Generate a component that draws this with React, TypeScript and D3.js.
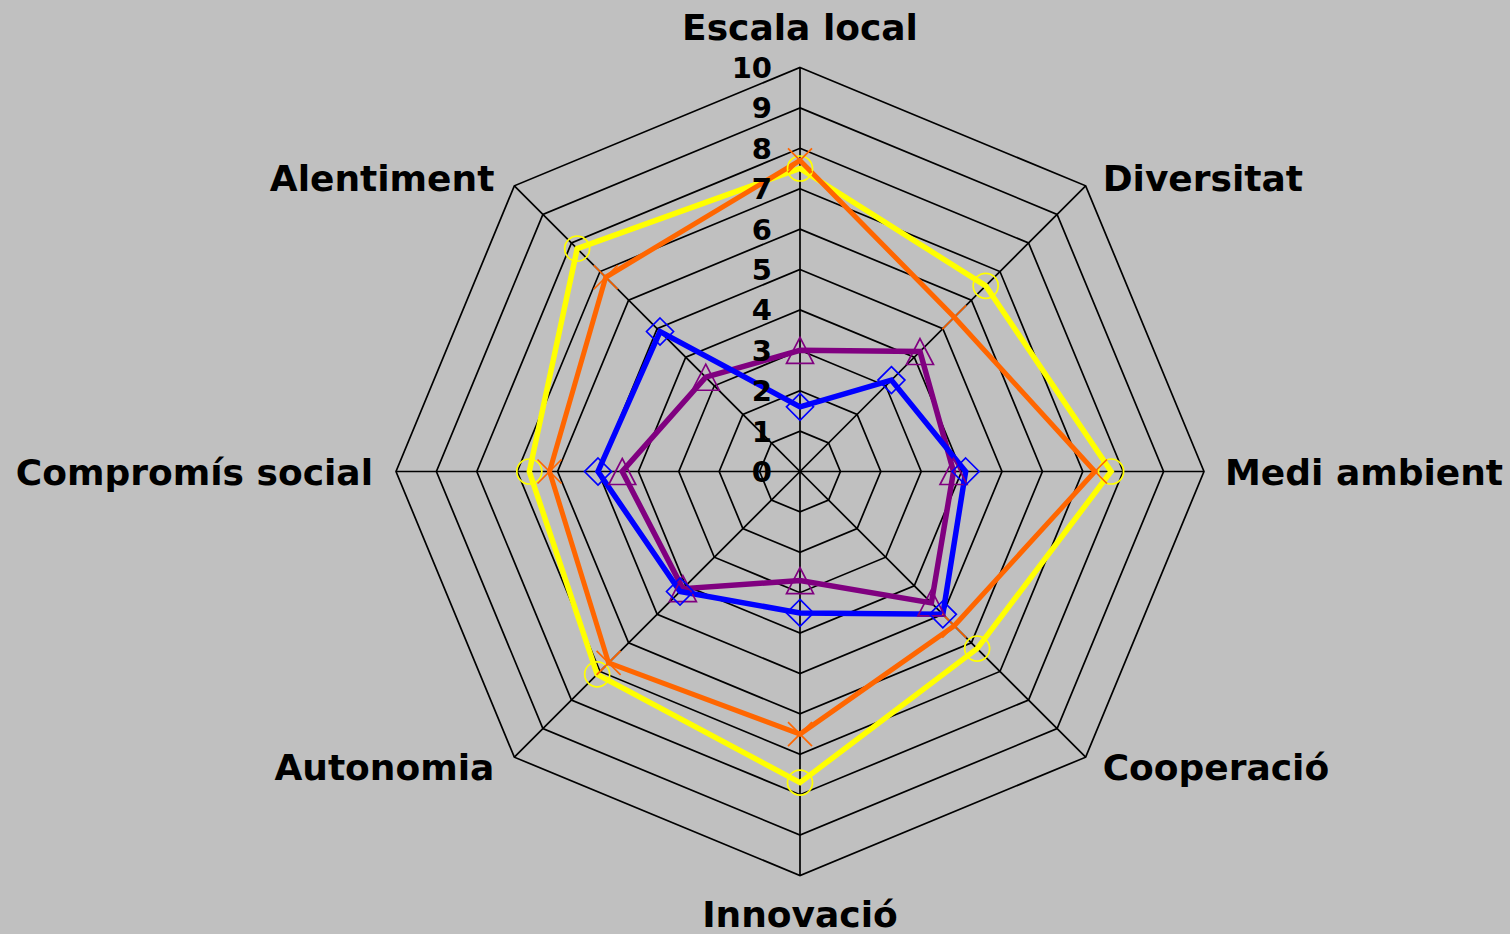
import * as d3 from 'd3';

const axes = [
  'Escala local',
  'Diversitat',
  'Medi ambient',
  'Cooperació',
  'Innovació',
  'Autonomia',
  'Compromís social',
  'Alentiment',
];

const ticks = [0, 1, 2, 3, 4, 5, 6, 7, 8, 9, 10];

// values per axis, in the order of `axes`
const yellowValues = [7.5, 6.5, 7.7, 6.2, 7.7, 7.1, 6.7, 7.8];
const orangeValues = [7.7, 5.4, 7.3, 5.4, 6.5, 6.7, 6.2, 6.8];
const purpleValues = [3.0, 4.2, 3.8, 4.6, 2.7, 4.1, 4.4, 3.3];
const blueValues = [1.6, 3.2, 4.1, 5.0, 3.5, 4.2, 5.0, 4.9];

type Marker = 'circle' | 'cross' | 'triangle' | 'diamond';

const series: { name: string; values: number[]; color: string; width: number; marker: Marker }[] = [
  { name: 'yellow', values: yellowValues, color: '#ffff00', width: 5.5, marker: 'circle' },
  { name: 'orange', values: orangeValues, color: '#ff6600', width: 5, marker: 'cross' },
  { name: 'purple', values: purpleValues, color: '#800080', width: 5.5, marker: 'triangle' },
  { name: 'blue', values: blueValues, color: '#0000ff', width: 5.5, marker: 'diamond' },
];

const WIDTH = 1510;
const HEIGHT = 934;
const CX = 800;
const CY = 471.5;
const RADIUS = 404;
const FONT = '"DejaVu Sans", Verdana, sans-serif';

function markerPath(kind: Marker) {
  const p = d3.path();
  if (kind === 'circle') {
    p.arc(0, 0, 12.5, 0, Math.PI * 2);
  } else if (kind === 'cross') {
    p.moveTo(-12, -12); p.lineTo(12, 12);
    p.moveTo(12, -12); p.lineTo(-12, 12);
  } else if (kind === 'triangle') {
    p.moveTo(0, -13); p.lineTo(13.5, 13); p.lineTo(-13.5, 13); p.closePath();
  } else {
    p.moveTo(0, -13.5); p.lineTo(13.5, 0); p.lineTo(0, 13.5); p.lineTo(-13.5, 0); p.closePath();
  }
  return p.toString();
}

export default function App() {
  const r = d3.scaleLinear().domain([0, 10]).range([0, RADIUS]);
  const angle = d3.scaleLinear().domain([0, axes.length]).range([0, Math.PI * 2]);
  const point = (i: number, v: number): [number, number] => [
    Math.sin(angle(i)) * r(v),
    -Math.cos(angle(i)) * r(v),
  ];

  const radial = d3.lineRadial<number>()
    .angle((_, i) => angle(i))
    .radius((v) => r(v))
    .curve(d3.curveLinearClosed);

  const ring = (t: number) => radial(axes.map(() => t)) ?? undefined;

  return (
    <>
      <style>{'body{margin:0;background:#c0c0c0;}'}</style>
      <svg width={WIDTH} height={HEIGHT} style={{ display: 'block', background: '#c0c0c0' }}>
        <g transform={`translate(${CX},${CY})`}>
          {ticks.slice(1).map((t) => (
            <path key={`ring-${t}`} d={ring(t)} fill="none" stroke="#000" strokeWidth={1.7} />
          ))}
          {axes.map((a, i) => {
            const [x, y] = point(i, 10);
            return <line key={`spoke-${a}`} x1={0} y1={0} x2={x} y2={y} stroke="#000" strokeWidth={1.7} />;
          })}

          {series.map((s) => (
            <path
              key={`line-${s.name}`}
              d={radial(s.values) ?? undefined}
              fill="none"
              stroke={s.color}
              strokeWidth={s.width}
              strokeLinejoin="miter"
            />
          ))}
          {series.map((s) => (
            <g key={`marks-${s.name}`}>
              {s.values.map((v, i) => {
                const [x, y] = point(i, v);
                return (
                  <path
                    key={i}
                    d={markerPath(s.marker)}
                    transform={`translate(${x},${y})`}
                    fill="none"
                    stroke={s.color}
                    strokeWidth={1.7}
                  />
                );
              })}
            </g>
          ))}

          {ticks.map((t) => (
            <text
              key={`tick-${t}`}
              x={-28}
              y={-r(t)}
              dy="0.36em"
              textAnchor="end"
              fontFamily={FONT}
              fontWeight="bold"
              fontSize={29}
              fill="#000"
            >
              {t}
            </text>
          ))}

          {axes.map((a, i) => {
            const [vx, vy] = point(i, 10);
            const s = Math.sin(angle(i));
            const c = Math.cos(angle(i));
            let x = vx;
            let y = vy;
            let anchor: 'start' | 'middle' | 'end' = 'middle';
            if (Math.abs(s) < 0.1) {
              y = c > 0 ? vy - 28 : vy + 51;
            } else if (Math.abs(c) < 0.1) {
              x = vx + (s > 0 ? 21 : -23);
              y = vy + 13.5;
              anchor = s > 0 ? 'start' : 'end';
            } else {
              x = vx + (s > 0 ? 17 : -20);
              y = vy + 14 - 9 * Math.sign(c);
              anchor = s > 0 ? 'start' : 'end';
            }
            return (
              <text
                key={`label-${a}`}
                x={x}
                y={y}
                textAnchor={anchor}
                fontFamily={FONT}
                fontWeight="bold"
                fontSize={36}
                fill="#000"
              >
                {a}
              </text>
            );
          })}
        </g>
      </svg>
    </>
  );
}
